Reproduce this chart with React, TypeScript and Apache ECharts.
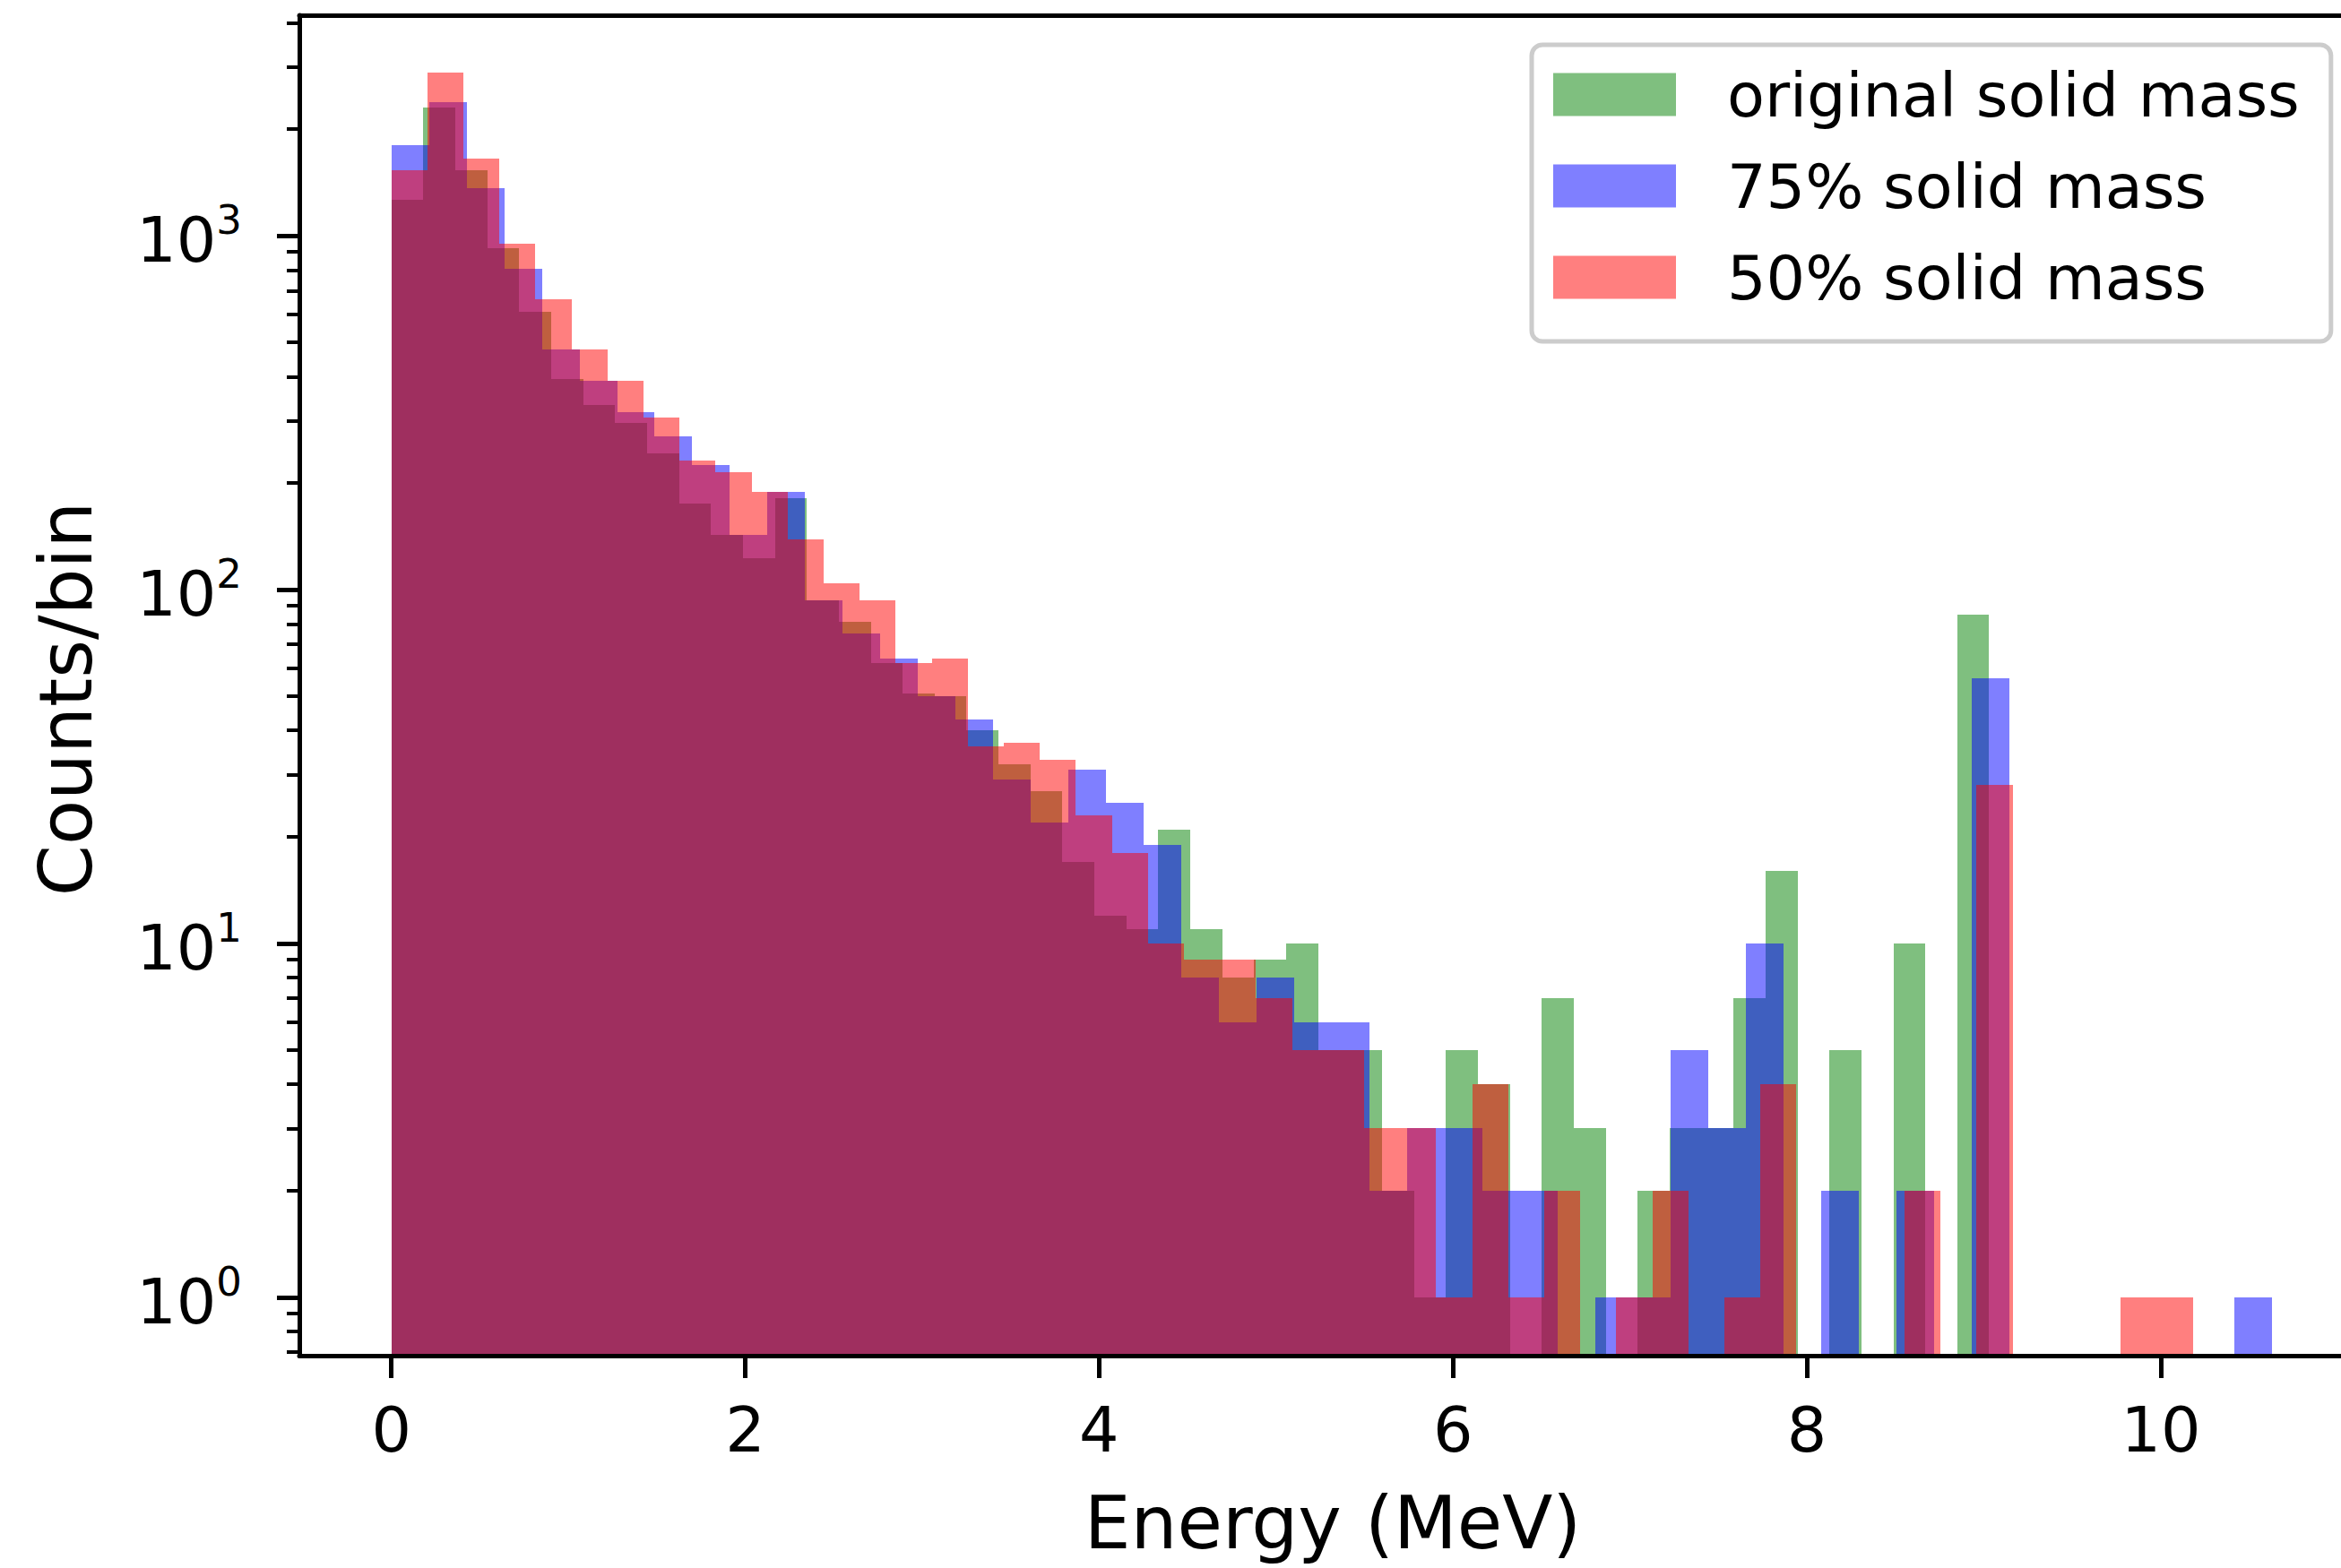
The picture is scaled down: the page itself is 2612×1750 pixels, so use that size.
import React, { useEffect, useRef } from 'react';
import * as echarts from 'echarts';

// ---- data ----
const N_BINS = 50;
const GREEN_MAX_E = 9.03; // MeV, upper edge of the last bin
const BLUE_MAX_E = 10.63;
const RED_MAX_E = 10.18;

const SERIES_NAMES = ['original solid mass', '75% solid mass', '50% solid mass'];

const GREEN_COUNTS = [
  1260, 2300, 1530, 920, 610, 394, 332, 296, 243, 175,
  143, 123, 181, 93, 81, 62, 51, 50, 40, 32,
  27, 17, 12, 11, 21, 11, 8, 9, 10, 5,
  5, 2, 1, 5, 4, 0, 7, 3, 0, 2,
  3, 3, 7, 16, 0, 5, 0, 10, 0, 85,
];

const BLUE_COUNTS = [
  1800, 2380, 1361, 805, 476, 390, 318, 271, 225, 143,
  189, 93, 75, 64, 50, 43, 29, 22, 31, 25,
  19, 8, 6, 8, 6, 6, 2, 3, 3, 2,
  2, 0, 1, 1, 5, 3, 10, 0, 2, 0,
  2, 0, 56, 0, 0, 0, 0, 0, 0, 1,
];

const RED_COUNTS = [
  1530, 2900, 1653, 950, 660, 476, 390, 307, 232, 215,
  189, 139, 104, 93, 62, 64, 36, 37, 33, 23,
  18, 10, 9, 9, 7, 5, 5, 3, 3, 1,
  4, 1, 2, 0, 1, 2, 0, 1, 4, 0,
  0, 0, 2, 0, 28, 0, 0, 0, 1, 1,
];

const X_TICKS = [0, 2, 4, 6, 8, 10];
const Y_TICKS = [1, 10, 100, 1000];
const Y_MINOR_TICKS = [
  0.7, 0.8, 0.9,
  2, 3, 4, 5, 6, 7, 8, 9,
  20, 30, 40, 50, 60, 70, 80, 90,
  200, 300, 400, 500, 600, 700, 800, 900,
  2000, 3000, 4000,
];

const X_MIN = -0.52;
const X_MAX = 11.16;
const Y_MIN = 0.684;
const Y_MAX = 4200;

const FONT = 'DejaVu Sans';
const COLORS = ['rgba(0,128,0,0.5)', 'rgba(0,0,255,0.5)', 'rgba(255,0,0,0.5)'];

function toBins(counts: number[], maxE: number) {
  const w = maxE / N_BINS;
  const out: number[][] = [];
  counts.forEach((c, k) => {
    if (c > 0) out.push([k * w, (k + 1) * w, c]);
  });
  return out;
}

function makeSeries(name: string, color: string, data: number[][]) {
  return {
    type: 'custom',
    name,
    data,
    clip: true,
    xAxisIndex: 0,
    yAxisIndex: 0,
    encode: { x: [0, 1], y: 2 },
    itemStyle: { color },
    renderItem: (_params: any, api: any) => {
      const a = api.coord([api.value(0), api.value(2)]);
      const b = api.coord([api.value(1), Y_MIN]);
      const x0 = Math.round(a[0]);
      const x1 = Math.round(b[0]);
      const y0 = Math.round(a[1]);
      const y1 = b[1] + 2;
      return {
        type: 'rect',
        shape: { x: x0, y: y0, width: x1 - x0, height: y1 - y0 },
        style: { fill: color },
      };
    },
  };
}

const AXIS_LINE = { color: '#000', width: 5 };

export default function App() {
  const ref = useRef<HTMLDivElement>(null);

  useEffect(() => {
    const chart = echarts.init(ref.current as HTMLDivElement, null, {
      renderer: 'svg',
      width: 2612,
      height: 1750,
    });

    const option: any = {
      animation: false,
      backgroundColor: '#ffffff',
      textStyle: { fontFamily: FONT },
      grid: {
        left: 334,
        top: 17,
        width: 2306,
        height: 1496,
        containLabel: false,
        outerBoundsMode: 'none',
      },
      legend: {
        orient: 'vertical',
        left: 1709,
        top: 50,
        selectedMode: false,
        icon: 'rect',
        itemWidth: 137,
        itemHeight: 48,
        itemGap: 33,
        padding: [21, 35, 37, 24],
        backgroundColor: 'rgba(255,255,255,0.8)',
        borderColor: '#cccccc',
        borderWidth: 5,
        borderRadius: 12,
        textStyle: {
          fontSize: 68.5,
          fontFamily: FONT,
          color: '#000',
          padding: [20, 0, 0, 52],
        },
        data: SERIES_NAMES.map((n, i) => ({ name: n, itemStyle: { color: COLORS[i] } })),
      },
      xAxis: [
        {
          type: 'value',
          position: 'bottom',
          min: X_MIN,
          max: X_MAX,
          z: 10,
          axisLine: { show: true, onZero: false, lineStyle: AXIS_LINE },
          axisTick: { show: true, customValues: X_TICKS, length: 25, lineStyle: AXIS_LINE },
          axisLabel: {
            show: true,
            customValues: X_TICKS,
            margin: 48,
            fontSize: 70,
            fontFamily: FONT,
            color: '#000',
            formatter: (v: number) => String(Math.round(v)),
          },
          splitLine: { show: false },
          name: 'Energy (MeV)',
          nameLocation: 'middle',
          nameGap: 145,
          nameMoveOverlap: false,
          nameTextStyle: { fontSize: 82, fontFamily: FONT, color: '#000' },
        },
        {
          type: 'value',
          position: 'top',
          min: X_MIN,
          max: X_MAX,
          z: 10,
          axisLine: { show: true, onZero: false, lineStyle: AXIS_LINE },
          axisTick: { show: false },
          axisLabel: { show: false },
          splitLine: { show: false },
        },
      ],
      yAxis: [
        {
          type: 'log',
          logBase: 10,
          position: 'left',
          min: Y_MIN,
          max: Y_MAX,
          z: 10,
          axisLine: { show: true, onZero: false, lineStyle: AXIS_LINE },
          axisTick: { show: true, customValues: Y_TICKS, length: 25, lineStyle: AXIS_LINE },
          axisLabel: {
            show: true,
            customValues: Y_TICKS,
            margin: 64,
            formatter: (v: number) => {
              const e = Math.round(Math.log10(v));
              return '{b|10}{s|' + e + '}';
            },
            rich: {
              b: { fontSize: 70, fontFamily: FONT, color: '#000', lineHeight: 80, verticalAlign: 'bottom' },
              s: { fontSize: 45, fontFamily: FONT, color: '#000', lineHeight: 45, verticalAlign: 'top' },
            },
          },
          splitLine: { show: false },
          minorTick: { show: false },
          name: 'Counts/bin',
          nameLocation: 'middle',
          nameGap: 220,
          nameMoveOverlap: false,
          nameTextStyle: { fontSize: 82, fontFamily: FONT, color: '#000', padding: [0, 30, 0, 0] },
        },
        {
          type: 'log',
          logBase: 10,
          position: 'left',
          min: Y_MIN,
          max: Y_MAX,
          z: 10,
          axisLine: { show: false, onZero: false },
          axisTick: { show: true, customValues: Y_MINOR_TICKS, length: 14, lineStyle: { color: '#000', width: 4 } },
          axisLabel: { show: false },
          splitLine: { show: false },
        },
      ],
      series: [
        makeSeries(SERIES_NAMES[0], COLORS[0], toBins(GREEN_COUNTS, GREEN_MAX_E)),
        makeSeries(SERIES_NAMES[1], COLORS[1], toBins(BLUE_COUNTS, BLUE_MAX_E)),
        makeSeries(SERIES_NAMES[2], COLORS[2], toBins(RED_COUNTS, RED_MAX_E)),
      ],
    };

    chart.setOption(option);
    return () => chart.dispose();
  }, []);

  return (
    <div
      ref={ref}
      style={{ position: 'absolute', left: 0, top: 0, width: 2612, height: 1750, background: '#fff' }}
    />
  );
}
